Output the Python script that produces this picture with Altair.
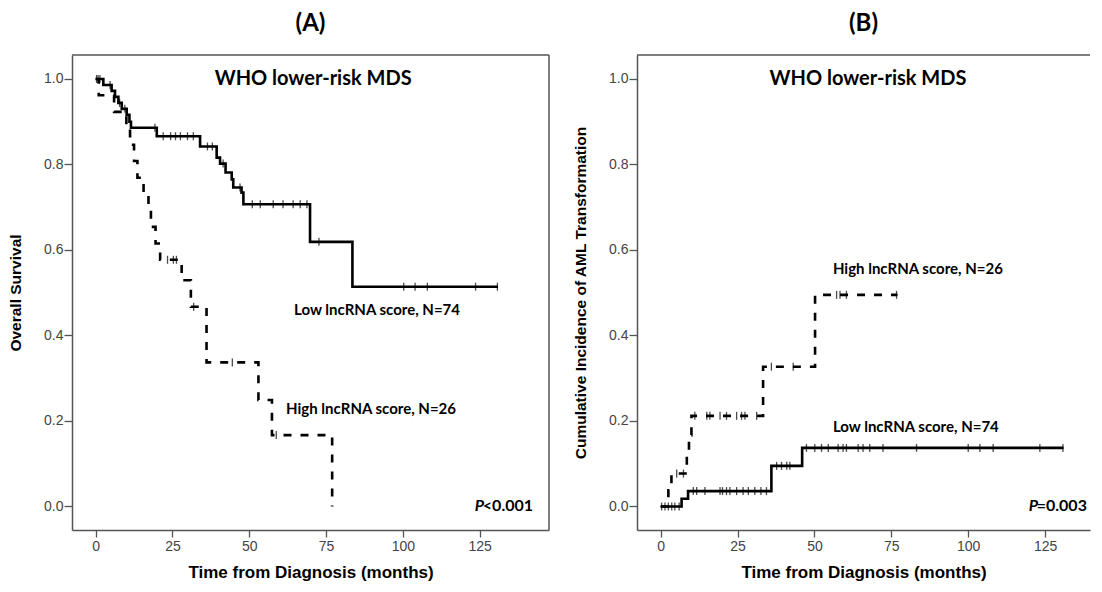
import altair as alt
import pandas as pd

# ---------------- Panel A: Overall survival (Kaplan-Meier) ----------------
a_low_t = [0, 2.5, 5.2, 6.3, 7.4, 8.5, 10.1, 11.0, 11.5, 19.9, 34.0, 39.4, 40.5,
           42.3, 44.3, 44.8, 47.5, 48.1, 69.8, 83.6, 131.0]
a_low_v = [1.0, 0.986, 0.972, 0.958, 0.944, 0.930, 0.916, 0.900, 0.886, 0.866, 0.842,
           0.816, 0.802, 0.781, 0.765, 0.746, 0.734, 0.707, 0.619, 0.514, 0.514]
a_low_cens_t = [0.3, 0.8, 1.4, 4.7, 7.8, 9.5, 19.3, 22.0, 24.4, 26.0, 27.6, 29.9, 31.8,
                36.4, 38.0, 41.5, 47.0, 51.0, 53.6, 57.8, 61.0, 64.3, 66.6, 68.8, 72.7,
                100.3, 104.0, 108.0, 123.7, 130.8]
a_low_cens_v = [1.0, 1.0, 1.0, 0.986, 0.944, 0.930, 0.886, 0.866, 0.866, 0.866, 0.866,
                0.866, 0.866, 0.842, 0.842, 0.802, 0.746, 0.707, 0.707, 0.707, 0.707,
                0.707, 0.707, 0.707, 0.619, 0.514, 0.514, 0.514, 0.514, 0.514]

a_high_t = [0, 1.0, 6.0, 10.0, 11.2, 12.5, 13.6, 15.6, 17.2, 18.0, 19.5, 21.0, 28.0,
            31.0, 36.1, 53.0, 57.4, 77.0]
a_high_v = [1.0, 0.962, 0.923, 0.885, 0.846, 0.808, 0.769, 0.731, 0.692, 0.654, 0.615,
            0.577, 0.529, 0.467, 0.337, 0.249, 0.167, 0.0]
a_high_cens_t = [23.4, 25.3, 26.3, 31.9, 44.5, 58.8]
a_high_cens_v = [0.577, 0.577, 0.577, 0.467, 0.337, 0.167]

# ---------------- Panel B: Cumulative incidence of AML transformation ----------------
b_low_t = [0, 6.8, 8.9, 36.0, 46.0, 131.0]
b_low_v = [0.0, 0.018, 0.036, 0.095, 0.137, 0.137]
b_low_cens_t = [0.3, 1.4, 2.5, 3.6, 4.6, 6.0,
                10.6, 11.7, 14.4, 19.3, 20.1, 21.4, 22.5, 24.7, 26.8, 28.5, 30.6, 32.6, 34.4,
                37.7, 39.3, 41.0, 42.0,
                47.4, 50.1, 52.3, 54.5, 57.7, 59.3, 60.4, 64.2, 65.8, 68.0, 72.3, 83.2,
                100.0, 103.8, 108.1, 123.3, 130.8]
b_low_cens_v = [0.0] * 6 + [0.036] * 13 + [0.095] * 4 + [0.137] * 17

b_high_t = [0, 2.5, 3.5, 8.5, 9.2, 10.0, 33.3, 50.2, 77.0]
b_high_v = [0.0, 0.038, 0.077, 0.122, 0.167, 0.212, 0.327, 0.495, 0.495]
b_high_cens_t = [5.2, 7.4, 11.1, 15.0, 16.0, 19.3, 21.4, 24.7, 26.3, 27.4, 31.2,
                 36.0, 43.1, 57.2, 58.3, 60.4, 76.7]
b_high_cens_v = [0.077, 0.077] + [0.212] * 9 + [0.327, 0.327] + [0.495] * 4

# ---------------- Text ----------------
panel_titles = ["(A)", "(B)"]
y_titles = ["Overall Survival", "Cumulative Incidence of AML Transformation"]
x_title = "Time from Diagnosis (months)"
heading = "WHO lower-risk MDS"
x_ticks = [0, 25, 50, 75, 100, 125]
y_ticks = [0.0, 0.2, 0.4, 0.6, 0.8, 1.0]

# annotation anchors (data coordinates)
a_head = (70.8, 1.0)
a_labels = {"text": ["Low lncRNA score, N=74", "High lncRNA score, N=26"],
            "t": [64.6, 62.0], "v": [0.46, 0.228]}
a_p = {"p": "P", "rest": "<0.001", "t": 142.4, "v": 0.0}
b_head = (67.4, 1.0)
b_labels = {"text": ["High lncRNA score, N=26", "Low lncRNA score, N=74"],
            "t": [56.0, 56.0], "v": [0.556, 0.186]}
b_p = {"p": "P", "rest": "=0.003", "t": 138.6, "v": 0.0}

X_DOM_A = [-7.7, 147.6]
X_DOM_B = [-7.7, 139.6]
Y_DOM = [-0.055, 1.056]

FRAME = "#555555"
TICK_FONT = "Liberation Sans, Arial"
TITLE_FONT = "Liberation Sans, Arial"
ANN_FONT = "Lato, Carlito, Calibri, sans-serif"
PW_A, PW_B, PH = 477, 453, 475


def panel(title, ytitle, xdom, low_t, low_v, lc_t, lc_v, high_t, high_v, hc_t, hc_v,
          head, labels, pv, width, right_border):
    xs = alt.Scale(domain=xdom, nice=False, zero=False)
    ys = alt.Scale(domain=Y_DOM, nice=False, zero=False)
    xax = alt.Axis(values=x_ticks, title=x_title, format="d")
    yax = alt.Axis(values=y_ticks, title=ytitle, format=".1f")
    X = lambda f="t": alt.X(f + ":Q", scale=xs, axis=xax)
    Y = lambda f="v": alt.Y(f + ":Q", scale=ys, axis=yax)

    low = pd.DataFrame({"t": low_t, "v": low_v})
    high = pd.DataFrame({"t": high_t, "v": high_v})
    cens = pd.DataFrame({"t": lc_t + hc_t, "v": lc_v + hc_v})

    solid = alt.Chart(low).mark_line(interpolate="step-after", color="black",
                                     strokeWidth=2.6).encode(x=X(), y=Y())
    dashed = alt.Chart(high).mark_line(interpolate="step-after", color="black",
                                       strokeWidth=2.6, strokeDash=[8, 9]).encode(x=X(), y=Y())
    ticks = alt.Chart(cens).mark_tick(orient="vertical", size=8, thickness=1.3,
                                      color="black").encode(x=X(), y=Y())

    hd = pd.DataFrame({"t": [head[0]], "v": [head[1]], "text": [heading]})
    head_l = alt.Chart(hd).mark_text(font=ANN_FONT, fontWeight="bold", fontSize=20,
                                     align="center", baseline="middle",
                                     color="black").encode(x=X(), y=Y(), text="text:N")
    lb = pd.DataFrame(labels)
    lab_l = alt.Chart(lb).mark_text(font=ANN_FONT, fontWeight="bold", fontSize=15,
                                    align="left", baseline="middle",
                                    color="black").encode(x=X(), y=Y(), text="text:N")
    pdf = pd.DataFrame({"t": [pv["t"]], "v": [pv["v"]], "p": [pv["p"]], "rest": [pv["rest"]]})
    p_rest = alt.Chart(pdf).mark_text(font=ANN_FONT, fontWeight="bold", fontSize=16,
                                      align="right", baseline="middle",
                                      color="black").encode(x=X(), y=Y(), text="rest:N")
    p_it = alt.Chart(pdf).mark_text(font=ANN_FONT, fontWeight="bold", fontStyle="italic",
                                    fontSize=16, align="right", baseline="middle", dx=-49,
                                    color="black").encode(x=X(), y=Y(), text="p:N")

    top = alt.Chart(hd).mark_rule(color=FRAME, strokeWidth=1.5).encode(
        y=alt.Y(datum=Y_DOM[1], scale=ys, axis=yax))
    layers = [solid, dashed, ticks, head_l, lab_l, p_rest, p_it, top]
    if right_border:
        layers.append(alt.Chart(hd).mark_rule(color=FRAME, strokeWidth=1.5).encode(
            x=alt.X(datum=xdom[1], scale=xs, axis=xax)))
    return alt.layer(*layers).properties(
        width=width, height=PH,
        title=alt.TitleParams(title, font=ANN_FONT, fontSize=24, fontWeight="bold",
                              anchor="middle", frame="group", offset=18,
                              color="black"))


A = panel(panel_titles[0], y_titles[0], X_DOM_A, a_low_t, a_low_v, a_low_cens_t, a_low_cens_v,
          a_high_t, a_high_v, a_high_cens_t, a_high_cens_v, a_head, a_labels, a_p, PW_A, True)
B = panel(panel_titles[1], y_titles[1], X_DOM_B, b_low_t, b_low_v, b_low_cens_t, b_low_cens_v,
          b_high_t, b_high_v, b_high_cens_t, b_high_cens_v, b_head, b_labels, b_p, PW_B, False)

chart = alt.hconcat(A, B, spacing=22).properties(
    padding={"left": 0, "top": 3, "right": 0, "bottom": 0}
).configure_view(stroke="transparent").configure_axis(
    grid=False, domainColor=FRAME, domainWidth=1.5, tickColor=FRAME, tickWidth=1.3,
    tickSize=8, labelFont=TICK_FONT, labelFontSize=14, labelColor="#444444", labelPadding=1,
    titleFont=TITLE_FONT, titleFontWeight="bold", titleColor="black"
).configure_axisY(titleFontSize=15.5, titlePadding=20
).configure_axisX(titleFontSize=17, titlePadding=11, labelPadding=2, tickSize=7)

chart.save("out.html", embed_options={"renderer": "svg", "actions": False})
